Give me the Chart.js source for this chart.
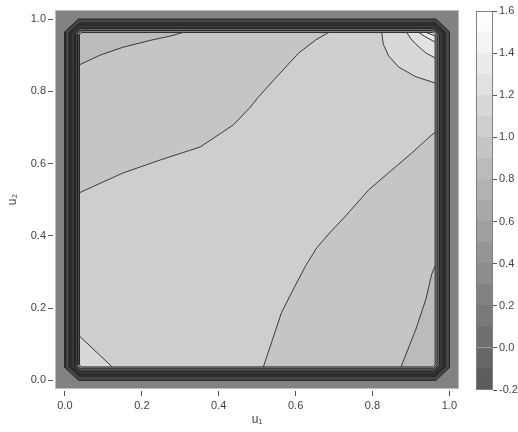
<!DOCTYPE html>
<html>
<head>
<meta charset="utf-8">
<script src="https://cdn.jsdelivr.net/npm/chart.js@4.4.1/dist/chart.umd.min.js"></script>
<style>
  html, body { margin: 0; padding: 0; background: #fff; }
  #wrap { position: relative; width: 518px; height: 432px; }
  #wrap canvas { position: absolute; left: 0; top: 0; }
</style>
</head>
<body>
<div id="wrap">
  <canvas id="density" width="518" height="432"></canvas>
  <canvas id="scalebar" width="518" height="432"></canvas>
</div>
<script>
// tick positions
var uTicks = [0, 0.2, 0.4, 0.6, 0.8, 1.0];
var levelTicks = [-0.2, 0, 0.2, 0.4, 0.6, 0.8, 1.0, 1.2, 1.4, 1.6];

// contour levels, 0.1 apart
var levels = [-0.2, -0.1, 0, 0.1, 0.2, 0.3, 0.4, 0.5, 0.6, 0.7, 0.8, 0.9, 1.0, 1.1, 1.2, 1.3, 1.4, 1.5, 1.6];

// boundary ring: inset from the unit square, corner cut, fill shade, outlined or not
var ringInset = [0.000, 0.009, 0.018, 0.026, 0.032, 0.037];
var ringBevel = [0.035, 0.028, 0.021, 0.015, 0.010, 0.006];
var ringShade = ['#464646', '#2b2b2b', '#383838', '#666666', '#989898'];
var ringLine = [true, false, false, true, true, true];

// interior contour lines (u1, u2)
var lineA = [[0.037, 0.873], [0.091, 0.900], [0.151, 0.922], [0.222, 0.941], [0.274, 0.953], [0.308, 0.963]];
var lineB = [[0.037, 0.519], [0.151, 0.574], [0.248, 0.610], [0.352, 0.646], [0.438, 0.707], [0.482, 0.756],
             [0.503, 0.784], [0.555, 0.845], [0.608, 0.906], [0.652, 0.942], [0.686, 0.963]];
var lineC = [[0.516, 0.037], [0.537, 0.104], [0.563, 0.187], [0.589, 0.242], [0.626, 0.317], [0.655, 0.367],
             [0.686, 0.405], [0.730, 0.455], [0.790, 0.527], [0.850, 0.582], [0.902, 0.629], [0.939, 0.665], [0.963, 0.687]];
var lineD = [[0.874, 0.037], [0.913, 0.142], [0.939, 0.225], [0.954, 0.294], [0.963, 0.317]];
var lineE = [[0.037, 0.123], [0.123, 0.037]];
var arc1 = [[0.824, 0.963], [0.828, 0.930], [0.842, 0.898], [0.868, 0.867], [0.913, 0.840], [0.963, 0.823]];
var arc2 = [[0.889, 0.963], [0.900, 0.945], [0.913, 0.930], [0.939, 0.906], [0.963, 0.892]];
var arc3 = [[0.920, 0.963], [0.939, 0.950], [0.963, 0.936]];
var arc4 = [[0.939, 0.963], [0.963, 0.953]];

// level of each filled region
var frameLevel = 0.25;
var baseLevel = 0.95;
var topLeftLevel = 0.85, centreLevel = 1.05, bottomRightLevel = 0.85, bottomLeftLevel = 1.15;
var arcLevels = [1.15, 1.25, 1.35, 1.45];

var font = { family: "'Liberation Sans', Arial, sans-serif", size: 11 };
var textColor = '#444';

function bandIndex(v) {
  for (var i = levels.length - 2; i >= 0; i--) {
    if (v >= levels[i] - 1e-9) return i;
  }
  return 0;
}
function shade(v) {
  var g = Math.min(253, Math.round(92 + bandIndex(v) * 9.5));
  return 'rgb(' + g + ',' + g + ',' + g + ')';
}
function pts(arr) {
  return arr.map(function (p) { return { x: p[0], y: p[1] }; });
}
function octagon(d, b) {
  var lo = d, hi = 1 - d;
  return [[lo + b, lo], [hi - b, lo], [hi, lo + b], [hi, hi - b], [hi - b, hi], [lo + b, hi], [lo, hi - b], [lo, lo + b], [lo + b, lo]];
}

var layers = [];
function area(arr, color) {
  layers.push({ data: pts(arr), backgroundColor: color, borderWidth: 0, fill: 'shape', pointRadius: 0 });
}
function contour(arr, color) {
  layers.push({ data: pts(arr), borderColor: color, borderWidth: 1, fill: false, pointRadius: 0 });
}

// background outside the unit square
area([[-0.05, -0.05], [1.05, -0.05], [1.05, 1.05], [-0.05, 1.05]], shade(frameLevel));
// boundary ring and interior base
for (var i = 0; i < ringShade.length; i++) area(octagon(ringInset[i], ringBevel[i]), ringShade[i]);
var last = ringInset.length - 1;
area(octagon(ringInset[last], ringBevel[last]), shade(baseLevel));
// interior regions
area(lineA.concat([[0.037, 0.963]]), shade(topLeftLevel));
area(lineB.concat(arc1, lineC.slice().reverse(), lineE.slice().reverse()), shade(centreLevel));
area(lineD.concat([[0.963, 0.037]]), shade(bottomRightLevel));
area(lineE.concat([[0.037, 0.037]]), shade(bottomLeftLevel));
[arc1, arc2, arc3, arc4].forEach(function (a, k) {
  area(a.concat([[0.963, 0.963]]), shade(arcLevels[k]));
});
// contour lines on top
for (var j = 0; j < ringInset.length; j++) {
  if (ringLine[j]) contour(octagon(ringInset[j], ringBevel[j]), '#222');
}
[lineA, lineB, lineC, lineD, lineE, arc1, arc2, arc3, arc4].forEach(function (l) { contour(l, '#3a3a3a'); });

// first layer is drawn first
layers.forEach(function (ds, i) { ds.order = layers.length - i; ds.tension = 0; });

function boxPlugin(color) {
  return {
    id: 'box',
    afterDraw: function (chart) {
      var a = chart.chartArea, ctx = chart.ctx;
      ctx.save();
      ctx.strokeStyle = color;
      ctx.lineWidth = 1;
      ctx.strokeRect(Math.round(a.left) + 0.5, Math.round(a.top) + 0.5,
        Math.round(a.right - a.left) - 1, Math.round(a.bottom - a.top) - 1);
      ctx.restore();
    }
  };
}

new Chart(document.getElementById('density'), {
  type: 'line',
  data: { datasets: layers },
  options: {
    responsive: false,
    animation: false,
    layout: { padding: { top: 10, right: 59, left: 0, bottom: 0 } },
    plugins: { legend: { display: false }, tooltip: { enabled: false } },
    scales: {
      x: {
        type: 'linear', min: -0.026, max: 1.025,
        afterBuildTicks: function (s) { s.ticks = uTicks.map(function (v) { return { value: v }; }); },
        afterFit: function (s) { s.height = 43; },
        border: { display: false },
        grid: { drawOnChartArea: false, tickLength: 7, tickColor: '#555', tickBorderDash: [0, 2, 5, 20] },
        ticks: { autoSkip: false, maxRotation: 0, padding: 3, color: textColor, font: font,
          callback: function (v) { return Number(v).toFixed(1); } },
        title: { display: true, text: 'u₁', color: textColor, font: { family: font.family, size: 12 }, padding: { top: 0, bottom: 5 } }
      },
      y: {
        type: 'linear', min: -0.024, max: 1.025,
        afterBuildTicks: function (s) { s.ticks = uTicks.map(function (v) { return { value: v }; }); },
        afterFit: function (s) { s.width = 55; },
        border: { display: false },
        grid: { drawOnChartArea: false, tickLength: 7, tickColor: '#555', tickBorderDash: [5, 2] },
        ticks: { autoSkip: false, padding: 2, color: textColor, font: font,
          callback: function (v) { return Number(v).toFixed(1); } },
        title: { display: true, text: 'u₂', color: textColor, font: { family: font.family, size: 12 }, padding: { top: 5, bottom: 0 } }
      }
    }
  },
  plugins: [boxPlugin('#bdbdbd')]
});

// colour scale beside the plot
var bands = [];
for (var b = 0; b < levels.length - 1; b++) {
  bands.push({
    data: [[levels[b], levels[b + 1]]],
    backgroundColor: shade(levels[b] + 0.05),
    borderWidth: 0, grouped: false, barPercentage: 1, categoryPercentage: 1
  });
}

new Chart(document.getElementById('scalebar'), {
  type: 'bar',
  data: { labels: [''], datasets: bands },
  options: {
    responsive: false,
    animation: false,
    layout: { padding: { left: 476, top: 11, right: 0, bottom: 42 } },
    plugins: { legend: { display: false }, tooltip: { enabled: false } },
    scales: {
      x: { display: false },
      y: {
        position: 'right', min: -0.2, max: 1.6,
        afterBuildTicks: function (s) { s.ticks = levelTicks.map(function (v) { return { value: v }; }); },
        afterFit: function (s) { s.width = 25; },
        border: { display: false },
        grid: { drawOnChartArea: false, tickLength: 4, tickColor: '#555' },
        ticks: { autoSkip: false, padding: 2, color: textColor, font: font,
          callback: function (v) { return Number(v).toFixed(1); } }
      }
    }
  },
  plugins: [boxPlugin('#808080')]
});
</script>
</body>
</html>
